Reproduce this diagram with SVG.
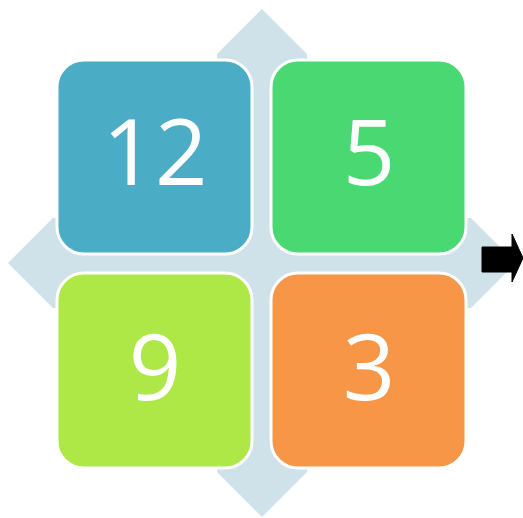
<svg xmlns="http://www.w3.org/2000/svg" width="523" height="518" viewBox="0 0 523 518">
<style>
.cell{stroke:#ffffff;stroke-width:3}
.num{font-family:"Open Sans","Liberation Sans",sans-serif;font-size:92px;fill:#ffffff;text-anchor:middle}
</style>
<rect width="523" height="518" fill="#ffffff"/>
<g id="background-arrows">
<path d="M262,9 L307,54 L307,218 L471,218 L516,263 L471,308 L307,308 L307,472 L262,517 L217,472 L217,308 L53,308 L8,263 L53,218 L217,218 L217,54 Z" fill="#cfe1e9"/>
</g>
<g id="node-12">
<rect class="cell" x="57" y="60" width="195" height="194" rx="27" fill="#4bacc6"/>
<text class="num" x="155" y="185">12</text>
</g>
<g id="node-5">
<rect class="cell" x="271" y="60" width="195" height="194" rx="27" fill="#4ad873"/>
<text class="num" x="369" y="185">5</text>
</g>
<g id="node-9">
<rect class="cell" x="57" y="273" width="195" height="195" rx="27" fill="#aee847"/>
<text class="num" x="155" y="400">9</text>
</g>
<g id="node-3">
<rect class="cell" x="271" y="273" width="195" height="195" rx="27" fill="#f79646"/>
<text class="num" x="369" y="400">3</text>
</g>
<g id="connectors">
<path d="M482,247 L512,247 L512,234 L523,258 L512,282 L512,272 L482,272 Z" fill="#000000" stroke="#000000" stroke-width="1"/>
</g>
</svg>
